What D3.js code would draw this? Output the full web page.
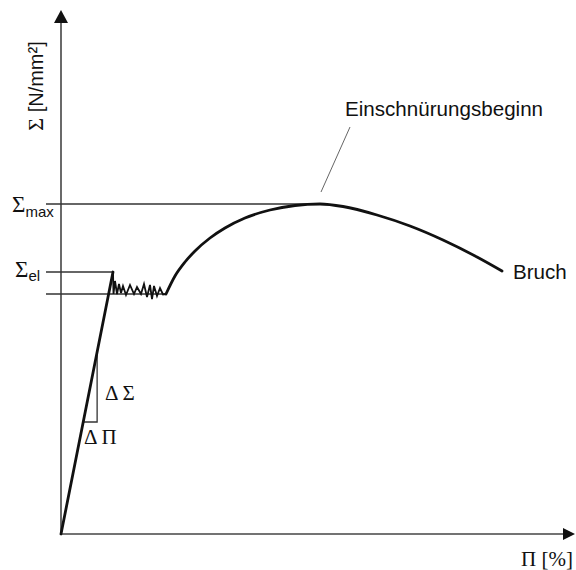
<!DOCTYPE html>
<html>
<head>
<meta charset="utf-8">
<script src="https://cdn.jsdelivr.net/npm/d3@7"></script>
<style>
  html, body { margin: 0; padding: 0; background: #fff; }
  svg { display: block; }
</style>
</head>
<body>
<svg id="chart" width="576" height="570"></svg>
<script>
// Spannungs-Dehnungs-Diagramm (schematisch), Werte in relativen Einheiten

// Hookesche Gerade: Ursprung bis obere Streckgrenze
const elasticStrain = [0, 10.4];
const elasticStress = [0, 52.4];

// Fließbereich (Lüdersdehnung) nach dem Abfall auf die untere Streckgrenze
const yieldStrain = [10.5, 10.8, 11.2, 11.6, 12.0, 12.4, 13.0, 13.8, 14.6, 15.2, 16.0, 16.6, 17.2, 17.8, 18.2, 18.6, 19.2, 19.8, 20.4, 21.0];
const yieldStress = [48.0, 50.6, 48.0, 50.0, 48.2, 49.6, 47.8, 49.8, 48.0, 49.4, 48.0, 50.0, 47.4, 49.8, 47.0, 49.6, 47.6, 49.2, 47.9, 48.0];

// Verfestigung bis Höchstkraft, danach Einschnürung bis Bruch
const hardeningStrain = [21.0, 22.8, 24.8, 26.8, 29.8, 32.8, 36.8, 41.8, 46.8, 51.8, 56.4, 63.2, 69.8, 76.4, 83.2, 88.2];
const hardeningStress = [48.0, 51.6, 54.4, 56.6, 59.2, 61.2, 63.2, 64.8, 65.7, 66.0, 65.5, 63.8, 61.6, 58.8, 55.4, 52.6];

// Kennwerte
const sigmaMax = 66.0;       // Zugfestigkeit
const sigmaEl = 52.4;        // obere Streckgrenze
const sigmaLower = 48.0;     // untere Streckgrenze
const strainAtMax = 51.8;
const strainAtEl = 10.4;
const strainLowerEnd = 21.0;

// Steigungsdreieck auf der Hookeschen Geraden
const slopeStress = [22.4, 36.4];

// Achsenlängen (mit Pfeil)
const axisMaxStrain = 102.8;
const axisMaxStress = 104.8;

const svg = d3.select("#chart");
const x = d3.scaleLinear().domain([0, 100]).range([61, 561]);
const y = d3.scaleLinear().domain([0, 100]).range([534, 34]);

const SERIF = "'Liberation Serif', 'Times New Roman', serif";
const SANS = "'Liberation Sans', Arial, sans-serif";

const zip = (a, b) => a.map((v, i) => [v, b[i]]);
const line = d3.line().x(d => x(d[0])).y(d => y(d[1]));

// Achsen
const axisColor = "#444";
svg.append("line")
  .attr("x1", x(0)).attr("y1", y(0)).attr("x2", x(0)).attr("y2", y(axisMaxStress) + 8)
  .attr("stroke", axisColor).attr("stroke-width", 1.6);
svg.append("line")
  .attr("x1", x(0)).attr("y1", y(0)).attr("x2", x(axisMaxStrain) - 8).attr("y2", y(0))
  .attr("stroke", axisColor).attr("stroke-width", 1.6);
// Pfeilspitzen
const yt = [x(0), y(axisMaxStress)];
svg.append("path")
  .attr("d", `M${yt[0]},${yt[1]} L${yt[0] - 7},${yt[1] + 13} L${yt[0] + 7},${yt[1] + 13} Z`)
  .attr("fill", "#111");
const xt = [x(axisMaxStrain), y(0)];
svg.append("path")
  .attr("d", `M${xt[0]},${xt[1]} L${xt[0] - 12},${xt[1] - 6} L${xt[0] - 12},${xt[1] + 6} Z`)
  .attr("fill", "#111");

// Hilfslinien für die Kennwerte
const refColor = "#333";
[[sigmaMax, strainAtMax], [sigmaEl, strainAtEl], [sigmaLower, strainLowerEnd]].forEach(([s, e]) => {
  svg.append("line")
    .attr("x1", x(-3)).attr("x2", x(e))
    .attr("y1", y(s)).attr("y2", y(s))
    .attr("stroke", refColor).attr("stroke-width", 1.3);
});

// Steigungsdreieck
const modulus = elasticStress[1] / elasticStrain[1];
const sLo = slopeStress[0], sHi = slopeStress[1];
svg.append("path")
  .attr("d", `M${x(sLo / modulus)},${y(sLo)} L${x(sHi / modulus)},${y(sLo)} L${x(sHi / modulus)},${y(sHi)}`)
  .attr("fill", "none").attr("stroke", refColor).attr("stroke-width", 1.3);

// Kurve
const curveColor = "#111";
svg.append("path")
  .attr("d", line(zip(elasticStrain, elasticStress)))
  .attr("fill", "none").attr("stroke", curveColor).attr("stroke-width", 2.8)
  .attr("stroke-linecap", "round");
svg.append("path")
  .attr("d", line([[elasticStrain[1], elasticStress[1]]].concat(zip(yieldStrain, yieldStress))))
  .attr("fill", "none").attr("stroke", curveColor).attr("stroke-width", 1.8)
  .attr("stroke-linejoin", "miter").attr("stroke-miterlimit", 4);
svg.append("path")
  .attr("d", line.curve(d3.curveMonotoneX)(zip(hardeningStrain, hardeningStress)))
  .attr("fill", "none").attr("stroke", curveColor).attr("stroke-width", 2.8)
  .attr("stroke-linecap", "round");

// Hinweislinie Einschnürungsbeginn
svg.append("line")
  .attr("x1", x(57.8)).attr("y1", y(81.4))
  .attr("x2", x(52.0)).attr("y2", y(68.4))
  .attr("stroke", "#666").attr("stroke-width", 1);

// Beschriftungen
const txt = (px, py, s, font, size, anchor) =>
  svg.append("text").attr("x", px).attr("y", py).text(s)
    .attr("font-family", font).attr("font-size", size)
    .attr("text-anchor", anchor || "start").attr("fill", "#111");

// Achsentitel Σ [N/mm²]
const yl = svg.append("text")
  .attr("transform", "translate(43,86) rotate(-90)")
  .attr("text-anchor", "middle").attr("fill", "#111")
  .attr("font-size", 20);
yl.append("tspan").attr("font-family", SERIF).attr("font-size", 22).text("Σ");
yl.append("tspan").attr("font-family", SANS).text(" [N/mm²]");

// Σmax
const tMax = svg.append("text").attr("x", 12).attr("y", 212).attr("fill", "#111");
tMax.append("tspan").attr("font-family", SERIF).attr("font-size", 23).text("Σ");
tMax.append("tspan").attr("font-family", SANS).attr("font-size", 15).attr("dy", 5).text("max");

// Σel
const tEl = svg.append("text").attr("x", 15).attr("y", 277).attr("fill", "#111");
tEl.append("tspan").attr("font-family", SERIF).attr("font-size", 23).text("Σ");
tEl.append("tspan").attr("font-family", SANS).attr("font-size", 15).attr("dy", 4).text("el");

txt(105, 400, "Δ Σ", SERIF, 21);
txt(84, 444, "Δ Π", SERIF, 21);
txt(521, 566, "Π [%]", SERIF, 21);
txt(345, 116, "Einschnürungsbeginn", SANS, 20.6);
txt(513, 279, "Bruch", SANS, 20.6);
</script>
</body>
</html>
